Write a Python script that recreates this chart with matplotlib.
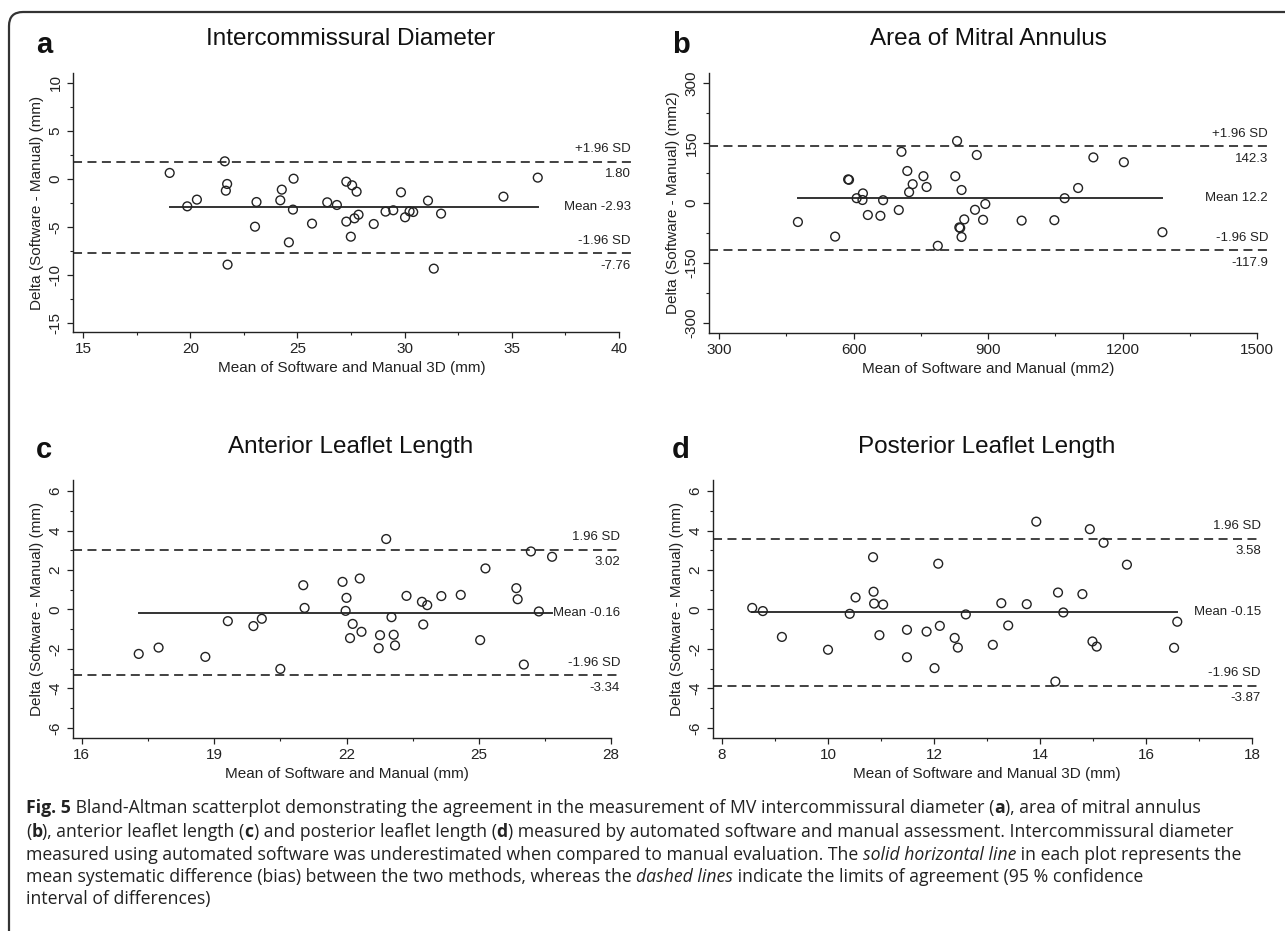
import matplotlib
matplotlib.use("Agg")
import matplotlib.pyplot as plt
from matplotlib.patches import FancyBboxPatch
from matplotlib.transforms import IdentityTransform

# ---- data

# a  intercommissural diameter
a_mean = [19.04, 19.86, 20.31, 21.61, 21.72, 21.66, 21.74, 23.09, 23.02, 24.27, 24.20, 24.82,
          24.79, 24.60, 25.68, 26.39, 26.84, 27.28, 27.55, 27.76, 27.28, 27.66, 27.85, 27.49,
          28.56, 29.11, 29.47, 29.83, 30.02, 30.23, 30.40, 31.09, 31.36, 31.70, 34.61, 36.21]
a_diff = [0.63, -2.85, -2.15, 1.84, -0.52, -1.22, -8.92, -2.40, -4.97, -1.11, -2.22, 0.03,
          -3.19, -6.60, -4.65, -2.43, -2.71, -0.28, -0.66, -1.32, -4.44, -4.10, -3.72, -6.01,
          -4.69, -3.40, -3.26, -1.39, -3.99, -3.37, -3.44, -2.26, -9.34, -3.61, -1.84, 0.14]
a_lines = [1.80, -2.93, -7.76]
a_xticks = [15, 20, 25, 30, 35, 40]
a_yticks = [-15, -10, -5, 0, 5, 10]

# b  area of mitral annulus
b_mean = [476, 559, 588, 590, 607, 621, 620, 632, 660, 666, 701, 707, 720, 724, 732, 756,
          763, 788, 827, 831, 841, 836, 838, 841, 847, 871, 875, 894, 889, 975, 1048, 1071,
          1101, 1135, 1203, 1289]
b_diff = [-47.5, -84, 59, 58, 12, 24, 7.5, -30, -32, 7, -17.5, 128, 80, 27, 47, 67,
          40, -107, 67, 155, 32.5, -61, -62.5, -85, -41, -17, 120, -2.5, -42, -44, -43, 12,
          37.5, 114, 102, -73]
b_lines = [142.3, 12.2, -117.9]
b_xticks = [300, 600, 900, 1200, 1500]
b_yticks = [-300, -150, 0, 150, 300]

# c  anterior leaflet length
c_mean = [17.29, 17.74, 18.80, 19.31, 19.89, 20.08, 20.50, 21.02, 21.05, 21.91, 22.00, 21.98,
          22.14, 22.08, 22.30, 22.34, 22.76, 22.73, 22.90, 23.02, 23.07, 23.10, 23.36, 23.71,
          23.83, 23.74, 24.15, 24.59, 25.03, 25.15, 25.85, 25.88, 26.02, 26.18, 26.36, 26.66]
c_diff = [-2.25, -1.93, -2.40, -0.59, -0.84, -0.47, -3.01, 1.23, 0.08, 1.40, 0.59, -0.07,
          -0.73, -1.45, 1.57, -1.13, -1.30, -1.96, 3.57, -0.39, -1.28, -1.82, 0.69, 0.39,
          0.22, -0.76, 0.68, 0.74, -1.55, 2.08, 1.08, 0.52, -2.79, 2.94, -0.10, 2.67]
c_lines = [3.02, -0.16, -3.34]
c_xticks = [16, 19, 22, 25, 28]
c_yticks = [-6, -4, -2, 0, 2, 4, 6]

# d  posterior leaflet length
d_mean = [8.57, 8.77, 9.13, 10.00, 10.41, 10.52, 10.85, 10.86, 10.87, 11.04, 10.97, 11.49,
          11.49, 11.86, 12.01, 12.08, 12.11, 12.39, 12.45, 12.60, 13.11, 13.27, 13.40, 13.75,
          13.93, 14.29, 14.34, 14.44, 14.80, 14.94, 14.99, 15.07, 15.20, 15.64, 16.53, 16.59]
d_diff = [0.08, -0.08, -1.39, -2.04, -0.22, 0.61, 2.65, 0.90, 0.30, 0.25, -1.30, -1.03,
          -2.42, -1.12, -2.97, 2.32, -0.83, -1.44, -1.93, -0.25, -1.79, 0.32, -0.81, 0.27,
          4.45, -3.65, 0.86, -0.15, 0.78, 4.07, -1.62, -1.88, 3.38, 2.27, -1.94, -0.62]
d_lines = [3.58, -0.15, -3.87]
d_xticks = [8, 10, 12, 14, 16, 18]
d_yticks = [-6, -4, -2, 0, 2, 4, 6]

W, H = 1285, 931
plt.rcParams["font.family"] = ["Liberation Sans", "DejaVu Sans"]
plt.rcParams["axes.unicode_minus"] = False
fig = plt.figure(figsize=(W / 100, H / 100), dpi=100)
fig.patch.set_facecolor("white")

INK = "#222222"


def midpoints(t):
    return [(t[i] + t[i + 1]) / 2 for i in range(len(t) - 1)]


def panel(rect, letter, letter_xy, title, title_xy, x, y, lines, xlim, ylim, xticks, yticks,
          ylab, xlab, top_lab, fmt):
    ax = fig.add_axes(rect)
    ax.set_xlim(*xlim)
    ax.set_ylim(*ylim)
    for s in ["top", "right"]:
        ax.spines[s].set_visible(False)
    for s in ["left", "bottom"]:
        ax.spines[s].set_color(INK)
        ax.spines[s].set_linewidth(1.0)
    ax.spines["bottom"].set_bounds(xlim[0], xticks[-1])
    ax.set_xticks(xticks)
    ax.set_xticks(midpoints(xticks), minor=True)
    ax.set_yticks(yticks)
    ax.set_yticks(midpoints(yticks), minor=True)
    ax.tick_params(which="major", length=4, width=0.9, color=INK, labelsize=11,
                   labelcolor=INK)
    ax.tick_params(which="minor", length=2.5, width=0.8, color=INK)
    ax.tick_params(axis="y", labelrotation=90)
    for t in ax.get_yticklabels():
        t.set_va("center")

    # limits + mean
    ax.axhline(lines[0], color="#333333", lw=1.3, ls=(0, (5, 3)))
    ax.axhline(lines[2], color="#333333", lw=1.3, ls=(0, (5, 3)))
    ax.plot([min(x), max(x)], [lines[1], lines[1]], color="#333333", lw=1.4)
    ax.scatter(x, y, s=40, facecolors="none", edgecolors=INK, linewidths=1.0, zorder=3)

    tr = ax.get_yaxis_transform()
    kw = dict(xycoords=tr, textcoords="offset points", ha="right", va="center",
              fontsize=9.5, color=INK)
    ax.annotate(top_lab, xy=(1, lines[0]), xytext=(0, 9), **kw)
    ax.annotate(fmt.format(lines[0]), xy=(1, lines[0]), xytext=(0, -9), **kw)
    ax.annotate("Mean " + fmt.format(lines[1]), xy=(1, lines[1]), xytext=(0, 0), **kw)
    ax.annotate("-1.96 SD", xy=(1, lines[2]), xytext=(0, 9), **kw)
    ax.annotate(fmt.format(lines[2]), xy=(1, lines[2]), xytext=(0, -9), **kw)

    ax.set_ylabel(ylab, fontsize=11, color=INK, labelpad=3)
    ax.set_xlabel(xlab, fontsize=11, color=INK, labelpad=3)
    fig.text(title_xy[0] / W, 1 - title_xy[1] / H, title, fontsize=17.5, color="#111111",
             ha="center", va="center")
    fig.text(letter_xy[0] / W, 1 - letter_xy[1] / H, letter, fontsize=21, fontweight="bold",
             color="#111111", ha="center", va="center")
    return ax


panel([73 / W, 1 - 332 / H, 558 / W, 259 / H], "a", (44, 45), "Intercommissural Diameter",
      (351, 39), a_mean, a_diff, a_lines, (14.53, 40.56), (-15.94, 11.04), a_xticks, a_yticks,
      "Delta (Software - Manual) (mm)", "Mean of Software and Manual 3D (mm)",
      "+1.96 SD", "{:.2f}")
panel([709 / W, 1 - 333 / H, 559 / W, 260 / H], "b", (681, 45), "Area of Mitral Annulus",
      (988, 39), b_mean, b_diff, b_lines, (277.7, 1524.5), (-325, 325), b_xticks, b_yticks,
      "Delta (Software - Manual) (mm2)", "Mean of Software and Manual (mm2)",
      "+1.96 SD", "{:.1f}")
panel([73 / W, 1 - 738 / H, 547 / W, 258 / H], "c", (44, 450), "Anterior Leaflet Length",
      (351, 447), c_mean, c_diff, c_lines, (15.80, 28.20), (-6.51, 6.56), c_xticks, c_yticks,
      "Delta (Software - Manual) (mm)", "Mean of Software and Manual (mm)",
      "1.96 SD", "{:.2f}")
panel([713 / W, 1 - 738 / H, 548 / W, 258 / H], "d", (681, 450), "Posterior Leaflet Length",
      (987, 447), d_mean, d_diff, d_lines, (7.83, 18.17), (-6.51, 6.56), d_xticks, d_yticks,
      "Delta (Software - Manual) (mm)", "Mean of Software and Manual 3D (mm)",
      "1.96 SD", "{:.2f}")

# ---- caption, drawn run by run
N, B, I = ("normal", "normal"), ("bold", "normal"), ("normal", "italic")
cap_lines = [
    [("Fig. 5", B),
     (" Bland-Altman scatterplot demonstrating the agreement in the measurement of MV intercommissural diameter (", N),
     ("a", B), ("), area of mitral annulus", N)],
    [("(", N), ("b", B), ("), anterior leaflet length (", N), ("c", B),
     (") and posterior leaflet length (", N), ("d", B),
     (") measured by automated software and manual assessment. Intercommissural diameter", N)],
    [("measured using automated software was underestimated when compared to manual evaluation. The ", N),
     ("solid horizontal line", I), (" in each plot represents the", N)],
    [("mean systematic difference (bias) between the two methods, whereas the ", N),
     ("dashed lines", I), (" indicate the limits of agreement (95 % confidence", N)],
    [("interval of differences)", N)],
]
cap_y = [808, 832, 855, 877, 899]
cap_end = [1252, 1237, 1266, 1250]
cap_font = ["Open Sans", "DejaVu Sans"]
X0 = 26

renderer = fig.canvas.get_renderer()


def draw_line(runs, y, size, keep=True):
    xpos = X0
    made = []
    for txt, (wt, st) in runs:
        t = fig.text(xpos / W, 1 - y / H, txt, fontsize=size, fontweight=wt, fontstyle=st,
                     family=cap_font, color="#222222", va="center", ha="left")
        xpos += t.get_window_extent(renderer).width
        made.append(t)
    if not keep:
        for t in made:
            t.remove()
    return xpos - X0


sizes = []
for runs, end in zip(cap_lines, cap_end):
    w = draw_line(runs, 0, 10, keep=False)
    sizes.append(10 * (end - X0) / w)
cap_size = min(sizes)
for runs, y in zip(cap_lines, cap_y):
    draw_line(runs, y, cap_size)

# rounded frame
frame = FancyBboxPatch((9, -30), 1320, 931 - 12 + 30, boxstyle="round,pad=0,rounding_size=14",
                       transform=IdentityTransform(), fill=False, edgecolor="#333333",
                       linewidth=1.6)
fig.patches.append(frame)

fig.savefig("out.png", dpi=100)
